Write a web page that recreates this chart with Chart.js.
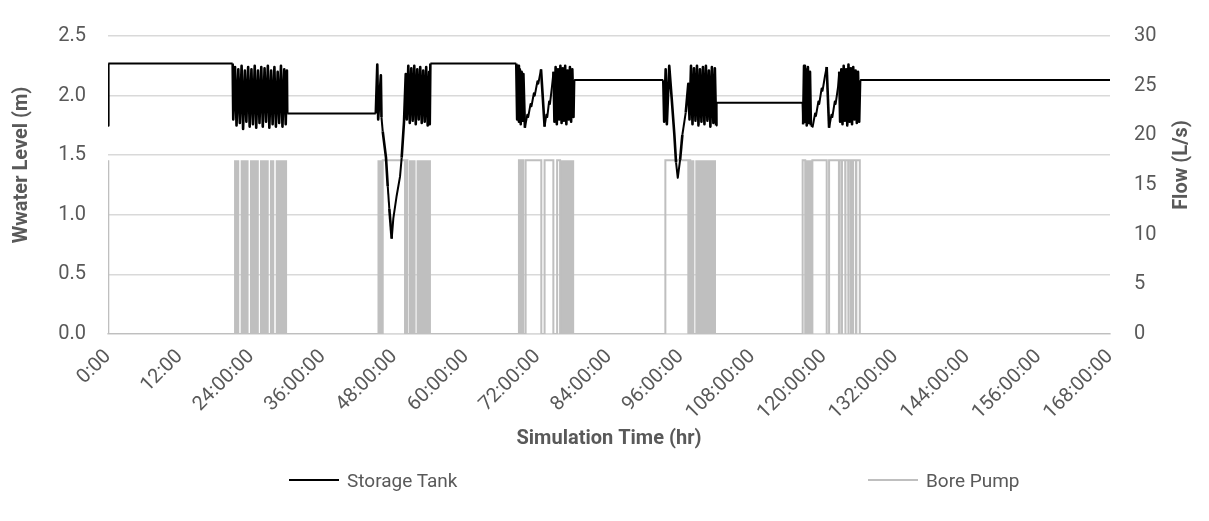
<!DOCTYPE html>
<html>
<head>
<meta charset="utf-8">
<script src="https://cdn.jsdelivr.net/npm/chart.js"></script>
<style>
  html, body { margin: 0; padding: 0; background: #fff; }
  #wrap { position: relative; width: 1209px; height: 521px; }
  #chart { display: block; }
  .legend-item { position: absolute; top: 468px; height: 24px; display: flex; align-items: center;
    font-family: 'Liberation Sans Narrow', 'Arial Narrow', Roboto, sans-serif; font-size: 19px; color: #595959; }
  .legend-line { width: 50px; height: 2px; margin-right: 8px; }
</style>
</head>
<body>
<div id="wrap">
  <canvas id="chart" width="1209" height="521"></canvas>
  <div class="legend-item" style="left:289px"><span class="legend-line" style="background:#000"></span>Storage Tank</div>
  <div class="legend-item" style="left:868px"><span class="legend-line" style="background:#bfbfbf"></span>Bore Pump</div>
</div>
<script>
// Simulation time in hours, tank level in metres
const tankTime = [
  0, 0.05, 20.9,
  21.0, 21.3, 21.55, 21.85, 22.1, 22.4, 22.65, 22.95, 23.2, 23.5, 23.75, 24.05, 24.3, 24.6,
  24.85, 25.15, 25.4, 25.7, 25.95, 26.25, 26.5, 26.8, 27.05, 27.35, 27.6, 27.9, 28.15, 28.45,
  28.7, 29.0, 29.25, 29.55, 29.8, 30.0, 30.05, 44.9,
  45.15, 45.3, 45.75, 45.85, 46.06, 46.61, 46.9, 47.17, 47.57, 47.84, 48.4, 48.96, 49.24, 49.63, 49.92,
  50.1, 50.35, 50.6, 50.85, 51.1, 51.35, 51.6, 51.85, 52.1, 52.35, 52.6, 52.85, 53.1, 53.35, 53.6,
  53.85, 53.95, 54.05, 68.45,
  68.6, 68.75, 68.9, 69.05, 69.2, 69.35, 69.5, 69.65, 69.9,
  70.3, 70.45, 70.85, 71.0, 71.4, 71.55, 72.0, 72.15, 72.6, 73.2,
  73.5, 73.65, 73.95, 74.1, 74.45, 74.7,
  74.85, 75.05, 75.25, 75.45, 75.65, 75.85, 76.05, 76.25, 76.45, 76.65, 76.85, 77.05, 77.25, 77.45,
  77.65, 77.85, 78.05, 78.15, 93.1,
  93.25, 93.5, 93.7, 94.1, 94.52, 94.96, 95.24, 95.53, 95.92, 96.3, 96.87, 97.3,
  97.5, 97.75, 98.0, 98.25, 98.5, 98.75, 99.0, 99.25, 99.5, 99.75, 100.0, 100.25, 100.5, 100.75,
  101.0, 101.25, 101.5, 101.75, 101.95, 102.05, 116.45,
  116.55, 116.7, 116.85, 117.0, 117.15, 117.35, 117.5, 117.7, 117.85, 118.15,
  118.55, 118.7, 119.1, 119.25, 119.65, 119.8, 120.2, 120.5, 120.9,
  121.3, 121.45, 121.85, 122.0, 122.4, 122.6,
  122.75, 122.95, 123.15, 123.35, 123.55, 123.75, 123.95, 124.15, 124.35, 124.55, 124.75, 124.95,
  125.15, 125.35, 125.55, 125.75, 125.95, 126.1, 168
];
const tankLevel = [
  1.75, 2.27, 2.27,
  1.80, 2.24, 1.75, 2.22, 1.77, 2.25, 1.72, 2.21, 1.78, 2.24, 1.74, 2.22, 1.76, 2.25,
  1.73, 2.21, 1.77, 2.24, 1.74, 2.23, 1.78, 2.25, 1.73, 2.21, 1.76, 2.24, 1.74, 2.20,
  1.77, 2.25, 1.74, 2.22, 1.76, 2.21, 1.85, 1.85,
  2.26, 1.80, 2.17, 1.82, 1.70, 1.48, 1.24, 1.05, 0.80, 0.97, 1.16, 1.32, 1.48, 1.78, 2.18,
  1.80, 2.25, 1.77, 2.23, 1.79, 2.25, 1.76, 2.22, 1.80, 2.24, 1.77, 2.21, 1.78, 2.24, 1.75,
  2.20, 1.76, 2.27, 2.27,
  1.80, 2.25, 1.78, 2.22, 1.76, 2.20, 1.79, 2.18, 1.73,
  1.84, 1.82, 1.93, 1.91, 2.02, 2.00, 2.12, 2.10, 2.22, 1.74,
  1.84, 1.82, 1.95, 1.93, 2.08, 2.20,
  1.78, 2.24, 1.76, 2.22, 1.80, 2.25, 1.77, 2.23, 1.79, 2.25, 1.76, 2.21, 1.80, 2.24,
  1.78, 2.22, 1.82, 2.13, 2.13,
  1.78, 2.22, 1.76, 2.25, 1.97, 1.67, 1.44, 1.31, 1.46, 1.67, 1.86, 2.10,
  1.80, 2.25, 1.76, 2.23, 1.79, 2.25, 1.75, 2.22, 1.78, 2.24, 1.76, 2.25, 1.79, 2.21,
  1.74, 2.24, 1.77, 2.23, 1.75, 1.94, 1.94,
  1.76, 2.25, 1.78, 2.22, 1.75, 2.24, 1.77, 2.20, 1.75, 1.74,
  1.85, 1.83, 1.95, 1.93, 2.06, 2.04, 2.16, 2.24, 1.73,
  1.84, 1.82, 1.95, 1.93, 2.07, 2.20,
  1.78, 2.22, 1.76, 2.25, 1.79, 2.22, 1.75, 2.26, 1.78, 2.23, 1.76, 2.24,
  1.80, 2.21, 1.77, 2.20, 1.78, 2.13, 2.13
];

// Bore pump flow (L/s): single switches and steady running
const pumpOnFlow = 17.5;
const pumpTime = [
  0, 0.05, 46.06, 46.06, 49.8, 49.8, 50.1, 50.1, 50.2, 50.2,
  68.9, 68.9, 69.22, 69.22, 69.3, 69.3, 69.62, 69.62, 70.02, 70.02, 72.65, 72.65, 73.2, 73.2,
  74.67, 74.67, 75.3, 75.3, 75.8, 75.8,
  93.45, 93.45, 97.3, 97.3, 97.55, 97.55, 97.62, 97.62,
  116.47, 116.47, 116.9, 116.9, 118.1, 118.1, 120.5, 120.5, 120.9, 120.9,
  122.55, 122.55, 122.62, 122.62, 123.0, 123.0, 123.07, 123.07, 123.6, 123.6, 123.67, 123.67,
  124.1, 124.1, 124.17, 124.17, 124.5, 124.5, 124.57, 124.57, 124.85, 124.85, 124.92, 124.92,
  125.4, 125.4, 125.47, 125.47, 126.05, 126.05, 168
];
const pumpFlow = [
  17.5, 0, 0, 17.5, 17.5, 0, 0, 17.5, 17.5, 0,
  0, 17.5, 17.5, 0, 0, 17.5, 17.5, 0, 0, 17.5, 17.5, 0, 0, 17.5,
  17.5, 0, 0, 17.5, 17.5, 0,
  0, 17.5, 17.5, 0, 0, 17.5, 17.5, 0,
  0, 17.5, 17.5, 0, 0, 17.5, 17.5, 0, 0, 17.5,
  17.5, 0, 0, 17.5, 17.5, 0, 0, 17.5, 17.5, 0, 0, 17.5,
  17.5, 0, 0, 17.5, 17.5, 0, 0, 17.5, 17.5, 0, 0, 17.5,
  17.5, 0, 0, 17.5, 17.5, 0, 0
];
// Periods of rapid on/off cycling (hours)
const cycleStart = [21.13, 22.2, 23.78, 25.45, 27.12, 28.08, 45.15, 50.45, 51.7, 75.8, 97.75, 98.45, 116.9];
const cycleEnd = [22.05, 23.6, 25.3, 26.97, 27.92, 30.06, 46.06, 51.6, 54.15, 78.2, 98.35, 101.95, 118.1];

const xTickLabels = ['0:00', '12:00', '24:00:00', '36:00:00', '48:00:00', '60:00:00', '72:00:00', '84:00:00',
  '96:00:00', '108:00:00', '120:00:00', '132:00:00', '144:00:00', '156:00:00', '168:00:00'];
const levelTicks = [0, 0.5, 1.0, 1.5, 2.0, 2.5];
const flowTicks = [0, 5, 10, 15, 20, 25, 30];

const FONT = "'Liberation Sans Narrow', 'Arial Narrow', Roboto, sans-serif";
const TEXT = '#595959';
const GRID = '#d9d9d9';

const tankPoints = tankTime.map((t, i) => ({ x: t, y: tankLevel[i] }));
const pumpPoints = pumpTime.map((t, i) => ({ x: t, y: pumpFlow[i] }));
// each cycling period becomes a filled band, separated by gaps
const cyclePoints = [];
cycleStart.forEach((s, i) => {
  const e = cycleEnd[i];
  cyclePoints.push({ x: s, y: 0 }, { x: s, y: pumpOnFlow }, { x: e, y: pumpOnFlow }, { x: e, y: 0 }, { x: e, y: null });
});

// rotated axis titles, both reading bottom to top
const axisTitles = {
  id: 'axisTitles',
  afterDraw(chart) {
    const ctx = chart.ctx;
    const draw = (text, x, y) => {
      ctx.save();
      ctx.translate(x, y);
      ctx.rotate(-Math.PI / 2);
      ctx.font = `bold 20px ${FONT}`;
      ctx.fillStyle = TEXT;
      ctx.textAlign = 'center';
      ctx.textBaseline = 'middle';
      ctx.fillText(text, 0, 0);
      ctx.restore();
    };
    draw('Wwater Level (m)', 22, 165);
    draw('Flow (L/s)', 1182, 165);
  }
};

new Chart(document.getElementById('chart'), {
  type: 'line',
  data: {
    datasets: [
      {
        label: 'Storage Tank',
        data: tankPoints,
        yAxisID: 'y',
        borderColor: '#000000',
        borderWidth: 2,
        borderJoinStyle: 'round',
        // steep strokes in the filling/draining cycles look heavier
        segment: {
          borderWidth: (c) => Math.abs(c.p1.parsed.y - c.p0.parsed.y) > 0.2 ? 2.6 : 2
        },
        pointRadius: 0,
        tension: 0
      },
      {
        label: 'Bore Pump',
        data: pumpPoints,
        yAxisID: 'y1',
        borderColor: '#bfbfbf',
        borderWidth: 2,
        pointRadius: 0,
        tension: 0
      },
      {
        label: 'cycling',
        data: cyclePoints,
        yAxisID: 'y1',
        borderWidth: 0,
        borderColor: 'rgba(0,0,0,0)',
        backgroundColor: '#bfbfbf',
        fill: 'origin',
        spanGaps: false,
        pointRadius: 0,
        tension: 0
      }
    ]
  },
  options: {
    responsive: false,
    animation: false,
    layout: { padding: { top: 24, bottom: 62, left: 0, right: 0 } },
    plugins: {
      legend: { display: false },
      tooltip: { enabled: false }
    },
    scales: {
      x: {
        type: 'linear',
        min: 0,
        max: 168,
        afterBuildTicks: (scale) => { scale.ticks = xTickLabels.map((_, i) => ({ value: i * 12 })); },
        afterFit: (scale) => { scale.height = 125; },
        grid: { display: false },
        border: { display: true, color: GRID, width: 1.5 },
        ticks: {
          autoSkip: false,
          minRotation: 45,
          maxRotation: 45,
          padding: 3,
          color: TEXT,
          font: { family: FONT, size: 20 },
          callback: (v, i) => xTickLabels[i]
        },
        title: {
          display: true,
          text: 'Simulation Time (hr)',
          color: TEXT,
          font: { family: FONT, size: 20, weight: 'bold' },
          padding: { top: 0, bottom: 8 }
        }
      },
      y: {
        position: 'left',
        min: 0,
        max: 2.5,
        afterBuildTicks: (scale) => { scale.ticks = levelTicks.map(v => ({ value: v })); },
        afterFit: (scale) => { scale.width = 108; },
        grid: { color: GRID, lineWidth: 1.5, drawTicks: false },
        border: { display: false },
        ticks: {
          padding: 22,
          color: TEXT,
          font: { family: FONT, size: 20 },
          callback: (v) => v.toFixed(1)
        }
      },
      y1: {
        position: 'right',
        min: 0,
        max: 30,
        afterBuildTicks: (scale) => { scale.ticks = flowTicks.map(v => ({ value: v })); },
        afterFit: (scale) => { scale.width = 99; },
        grid: { drawOnChartArea: false, drawTicks: false },
        border: { display: false },
        ticks: {
          padding: 24,
          color: TEXT,
          font: { family: FONT, size: 20 },
          callback: (v) => String(v)
        }
      }
    }
  },
  plugins: [axisTitles]
});
</script>
</body>
</html>
